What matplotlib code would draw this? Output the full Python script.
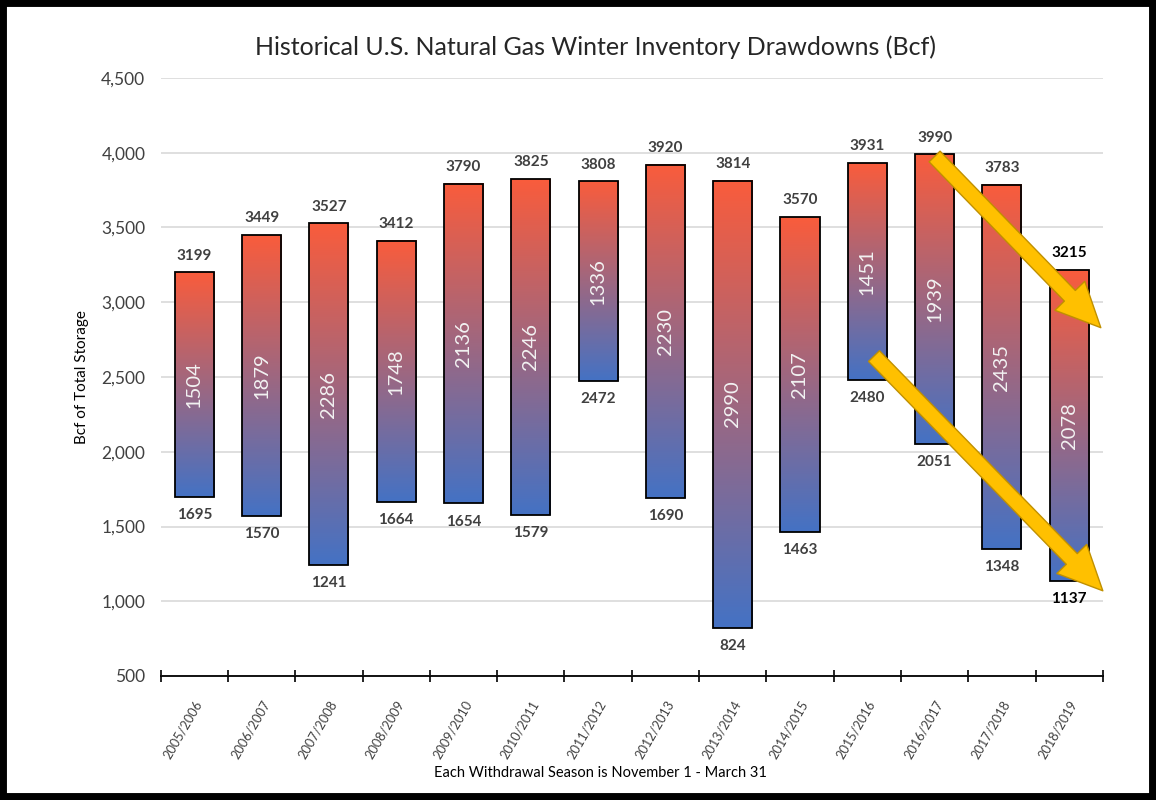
import numpy as np
import matplotlib.pyplot as plt
from matplotlib.patches import Rectangle, FancyArrowPatch
from matplotlib.colors import LinearSegmentedColormap

seasons = ["2005/2006", "2006/2007", "2007/2008", "2008/2009", "2009/2010",
           "2010/2011", "2011/2012", "2012/2013", "2013/2014", "2014/2015",
           "2015/2016", "2016/2017", "2017/2018", "2018/2019"]
high = [3199, 3449, 3527, 3412, 3790, 3825, 3808, 3920, 3814, 3570, 3931, 3990, 3783, 3215]
low = [1695, 1570, 1241, 1664, 1654, 1579, 2472, 1690, 824, 1463, 2480, 2051, 1348, 1137]
drawdown = [1504, 1879, 2286, 1748, 2136, 2246, 1336, 2230, 2990, 2107, 1451, 1939, 2435, 2078]

plt.rcParams['font.family'] = ['Lato', 'DejaVu Sans']

fig = plt.figure(figsize=(11.56, 8), dpi=100)
ax = fig.add_axes([0.139, 0.155, 0.815, 0.7475])

grad = LinearSegmentedColormap.from_list("g", ["#4472C4", "#F95C3C"])
ramp = np.linspace(0, 1, 256).reshape(-1, 1)
w = 0.58
x = np.arange(len(seasons))

for i in range(len(seasons)):
    ax.imshow(ramp, cmap=grad, origin="lower", aspect="auto",
              extent=[x[i] - w / 2, x[i] + w / 2, low[i], high[i]], zorder=2)
    ax.add_patch(Rectangle((x[i] - w / 2, low[i]), w, high[i] - low[i],
                           fill=False, edgecolor="black", linewidth=1.3, zorder=3))
    last = i == len(seasons) - 1
    c = "black" if last else "#404040"
    ax.annotate(str(high[i]), (x[i], high[i]), xytext=(0, 7), textcoords="offset points",
                ha="center", va="bottom", fontsize=11, fontweight="bold", color=c)
    ax.annotate(str(low[i]), (x[i], low[i]), xytext=(0, -8), textcoords="offset points",
                ha="center", va="top", fontsize=11, fontweight="bold", color=c)
    ax.text(x[i], (high[i] + low[i]) / 2, str(drawdown[i]), rotation=90,
            ha="center", va="center", fontsize=14.5, color="#F2F2F2", zorder=4)

# trend arrows
for start, end in [((11.0, 3975), (13.47, 2830)), ((10.1, 2640), (13.5, 1070))]:
    ax.add_patch(FancyArrowPatch(start, end,
                                 arrowstyle="simple,head_length=32,head_width=30,tail_width=11",
                                 mutation_scale=1, shrinkA=0, shrinkB=0,
                                 facecolor="#FFC000", edgecolor="#C09000",
                                 linewidth=1, zorder=6, clip_on=False))

ax.set_xlim(-0.5, len(seasons) - 0.5)
ax.set_ylim(500, 4500)
ax.set_yticks(np.arange(500, 4501, 500))
ax.set_yticklabels([f"{v:,}" for v in range(500, 4501, 500)], fontsize=12.5, color="#404040")
ax.set_xticks(x)
ax.set_xticklabels(seasons, rotation=60, ha="right", rotation_mode="anchor",
                   fontsize=9.2, color="#404040")
ax.set_xticks(np.arange(-0.5, len(seasons)), minor=True)
ax.tick_params(axis="x", which="major", length=0, pad=16)
ax.tick_params(axis="x", which="minor", length=9, direction="inout", width=1.2, color="black")
ax.tick_params(axis="y", length=0, pad=11)
ax.grid(axis="y", color="#D9D9D9", linewidth=1.2, zorder=0)
ax.set_axisbelow(True)
for s in ["top", "right", "left"]:
    ax.spines[s].set_visible(False)
ax.spines["bottom"].set_linewidth(1.3)
ax.spines["bottom"].set_zorder(1)

ax.set_ylabel("Bcf of Total Storage", fontsize=11, color="black", labelpad=9)
fig.text(0.519, 0.034, "Each Withdrawal Season is November 1 - March 31",
         ha="center", va="center", fontsize=10.5)
fig.text(0.515, 0.941, "Historical U.S. Natural Gas Winter Inventory Drawdowns (Bcf)",
         ha="center", va="center", fontsize=18, color="#262626")

fig.patches.append(Rectangle((0, 0), 1, 1, transform=fig.transFigure, fill=False,
                             edgecolor="black", linewidth=10))

fig.savefig("out.png", dpi=100)
